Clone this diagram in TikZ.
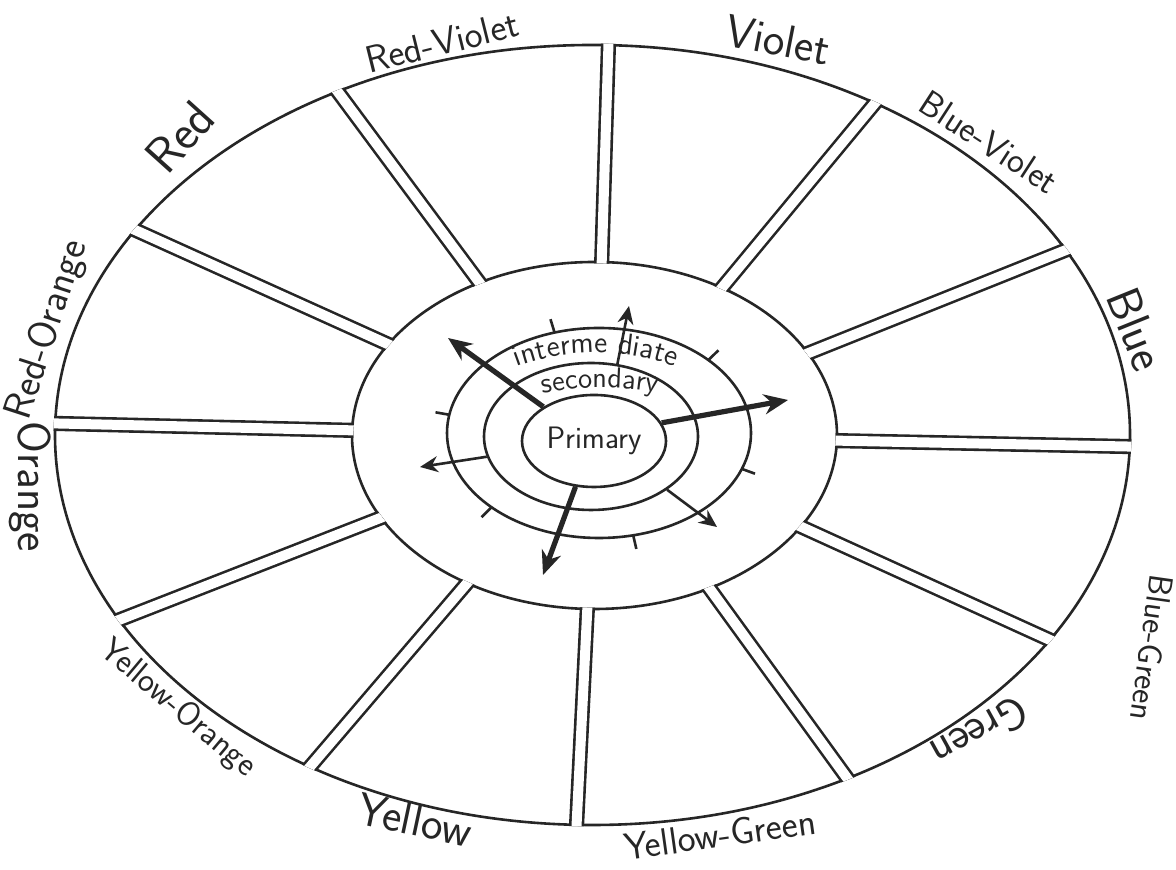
\documentclass[tikz,border=0pt]{standalone}
\usetikzlibrary{arrows.meta,calc,shapes.geometric,decorations.text}
\begin{document}
\begin{tikzpicture}[x=0.5pt,y=0.5pt,
  ink/.style={draw=black!85, line width=1.3pt},
  gapline/.style={draw=black!85, line width=1.3pt, double=white, double distance=5pt},
  lbl/.style={text=black!85, inner sep=0pt},
  thickarrow/.style={draw=black!85, line width=2.6pt, -{Stealth[length=12pt,width=10pt]}},
  thinarrow/.style={draw=black!85, line width=1.3pt, -{Stealth[length=9pt,width=8pt]}},
  ring/.style={ink, ellipse, inner sep=0pt}
]
\useasboundingbox (0,0) rectangle (1176,870);
\fill[white] (0,0) rectangle (1176,870);

% wheel geometry
\coordinate (ci) at (594.5,434.5);
\coordinate (co) at (592.5,435);
\def\ai{242.5}\def\bi{173.5}\def\ao{537.5}\def\bo{390}

\draw[ink] (co) ellipse [x radius=\ao, y radius=\bo];
\draw[ink] (ci) ellipse [x radius=\ai, y radius=\bi];

\begin{scope}[even odd rule]
  \clip (co) ellipse [x radius=\ao+1.4, y radius=\bo+1.4]
        (ci) ellipse [x radius=\ai-1.4, y radius=\bi-1.4];
  \foreach \k in {0,...,11} {
    \pgfmathsetmacro\ang{30*\k-1.7}
    \coordinate (pin\k) at ($(ci)+({\ai*cos(\ang)},{\bi*sin(\ang)})$);
    \coordinate (pout\k) at ($(co)+({\ao*cos(\ang)},{\bo*sin(\ang)})$);
    \draw[gapline] ($(pin\k)!-0.15!(pout\k)$) -- ($(pin\k)!1.1!(pout\k)$);
  }
\end{scope}

% inner rings
\node[ring, minimum width=152pt, minimum height=105pt] (intermediate) at (599,437) {};
\node[ring, minimum width=107pt, minimum height=73.5pt] (secondary) at (591,433.5) {};
\node[ring, minimum width=72pt, minimum height=46pt, font=\sffamily\fontsize{15.5}{18}\selectfont, text=black!85] (primary) at (594,429) {Primary};

% ticks on intermediate ring
\foreach \a in {107,44,170,-20,225,-77} {
  \draw[ink] ($(intermediate.center)+({152*cos(\a)},{105*sin(\a)})$) -- ($(intermediate.center)+({166*cos(\a)},{119*sin(\a)})$);
}

% curved labels
\path[decorate, decoration={text along path,
    text={|\sffamily\fontsize{15}{18}\selectfont\color{black!85}|interme diate}, text align=center}]
  ($(596,432)+({145*cos(150)},{85*sin(150)})$) arc[start angle=150, end angle=30, x radius=145, y radius=85];
\path[decorate, decoration={text along path,
    text={|\sffamily\fontsize{14.5}{18}\selectfont\color{black!85}|secondary}, text align=center}]
  ($(600,432)+({130*cos(140)},{50*sin(140)})$) arc[start angle=140, end angle=40, x radius=130, y radius=50];

% arrows
\coordinate (t1) at (448,532);
\coordinate (t3) at (788,470);
\coordinate (t5) at (543,295);
\coordinate (t2) at (629,564);
\coordinate (t4) at (420,403);
\coordinate (t6) at (717,343);
\draw[thickarrow] (primary.146) -- (t1);
\draw[thickarrow] (primary.15) -- (t3);
\draw[thickarrow] (primary.248) -- (t5);
\draw[thinarrow] (secondary.70) -- (t2);
\draw[thinarrow] (secondary.191) -- (t4);
\draw[thinarrow] (secondary.-35) -- (t6);

% colour labels
\node[lbl, font=\sffamily\fontsize{19}{22}\selectfont, rotate=14] (lRV) at (442,828) {Red-Violet};
\node[lbl, font=\sffamily\fontsize{23}{26}\selectfont, rotate=-11] (lV) at (778,830) {Violet};
\node[lbl, font=\sffamily\fontsize{18}{22}\selectfont, rotate=-33] (lBV) at (989,728) {Blue-Violet};
\node[lbl, font=\sffamily\fontsize{24}{28}\selectfont, rotate=-68] (lB) at (1136,541) {Blue};
\node[lbl, font=\sffamily\fontsize{17}{20}\selectfont, rotate=-98] (lBG) at (1152,222) {Blue-Green};
\node[lbl, font=\sffamily\fontsize{23}{26}\selectfont, rotate=209] (lG) at (980,137) {Green};
\node[lbl, font=\sffamily\fontsize{19}{22}\selectfont, rotate=8] (lYG) at (720,36) {Yellow-Green};
\node[lbl, font=\sffamily\fontsize{23}{26}\selectfont, rotate=-12] (lY) at (415,50) {Yellow};
\node[lbl, font=\sffamily\fontsize{17}{20}\selectfont, rotate=-40] (lYO) at (178,161) {Yellow-Orange};
\node[lbl, font=\sffamily\fontsize{23}{26}\selectfont, rotate=-90] (lO) at (30,383) {Orange};
\node[lbl, font=\sffamily\fontsize{20}{24}\selectfont, rotate=72] (lRO) at (48,540) {Red-Orange};
\node[lbl, font=\sffamily\fontsize{25}{28}\selectfont, rotate=48] (lR) at (180,733) {Red};
\end{tikzpicture}
\end{document}
